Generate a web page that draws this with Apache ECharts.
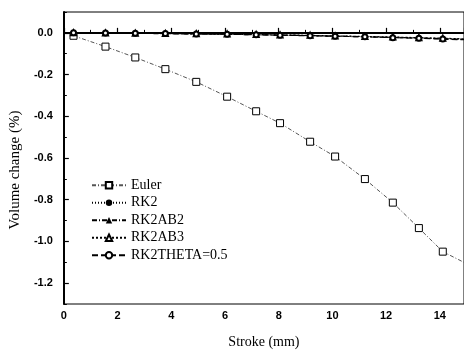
<!DOCTYPE html>
<html><head><meta charset="utf-8">
<script src="https://cdn.jsdelivr.net/npm/echarts@6/dist/echarts.min.js"></script>
<style>html,body{margin:0;padding:0;background:#fff}#c{width:464px;height:354px}</style>
</head><body><div id="c"></div>
<script>
const strokeX = [0.36,1.55,2.66,3.78,4.93,6.08,7.16,8.05,9.17,10.1,11.21,12.25,13.22,14.11,15.2];
const euler = [-0.014,-0.066,-0.118,-0.174,-0.235,-0.306,-0.376,-0.433,-0.522,-0.593,-0.701,-0.814,-0.936,-1.049,-1.12];
const rk2 = [0,-0.001,-0.002,-0.003,-0.005,-0.006,-0.008,-0.010,-0.013,-0.015,-0.018,-0.021,-0.024,-0.027,-0.031];
const rk2ab2 = [0,-0.001,-0.002,-0.004,-0.005,-0.007,-0.009,-0.011,-0.013,-0.016,-0.019,-0.022,-0.025,-0.028,-0.032];
const rk2ab3 = [0,-0.001,-0.002,-0.003,-0.004,-0.006,-0.008,-0.010,-0.012,-0.015,-0.017,-0.020,-0.023,-0.026,-0.030];
const rk2theta = [0,-0.001,-0.002,-0.003,-0.005,-0.007,-0.009,-0.011,-0.014,-0.016,-0.019,-0.023,-0.026,-0.030,-0.034];
const xTicks = [0,2,4,6,8,10,12,14];
const yTicks = [-1.2,-1.0,-0.8,-0.6,-0.4,-0.2,0.0];
const yMinor = [-1.3,-1.1,-0.9,-0.7,-0.5,-0.3,-0.1,0.1];
const names = ['Euler','RK2','RK2AB2','RK2AB3','RK2THETA=0.5'];

const pairs = arr => strokeX.map((x,i)=>[x,arr[i]]);
const tickFont = {fontFamily:'Liberation Sans, Arial', fontWeight:'bold', fontSize:11, color:'#000'};
const chart = echarts.init(document.getElementById('c'), null, {renderer:'canvas'});
chart.setOption({
  animation:false,
  backgroundColor:'#fff',
  grid:{left:63, right:0, top:12, bottom:45.5, show:true, borderColor:'#000', borderWidth:1},
  legend:{
    orient:'vertical', left:86, top:173, itemWidth:34, itemHeight:8, itemGap:3,
    data:names,
    textStyle:{fontFamily:'Liberation Serif, Times New Roman', fontSize:14, color:'#000', lineHeight:14.5}
  },
  xAxis:{
    type:'value', min:0, max:14.9, interval:2,
    name:'Stroke (mm)', nameLocation:'middle', nameGap:31,
    nameTextStyle:{fontFamily:'Liberation Serif, Times New Roman', fontSize:14, color:'#000'},
    axisLine:{lineStyle:{color:'#000', width:2}},
    axisTick:{inside:true, length:5, lineStyle:{color:'#000', width:1.2}},
    minorTick:{show:true, splitNumber:2, length:3, lineStyle:{color:'#000'}},
    axisLabel:{...tickFont, margin:6, customValues:xTicks},
    splitLine:{show:false}
  },
  yAxis:[{
    type:'value', min:-1.3, max:0.1, interval:0.1,
    name:'Volume change (%)', nameLocation:'middle', nameGap:35,
    nameTextStyle:{fontFamily:'Liberation Serif, Times New Roman', fontSize:15, color:'#000', padding:[0,0,0,-24]},
    axisLine:{lineStyle:{color:'#000', width:2}},
    axisTick:{inside:true, length:5, customValues:yTicks, lineStyle:{color:'#000', width:1.2}},
    axisLabel:{...tickFont, margin:11, customValues:yTicks, formatter:v=>v.toFixed(1)},
    splitLine:{show:false}
  },{
    type:'value', min:-1.3, max:0.1, interval:0.1, position:'left',
    axisLine:{show:false},
    axisTick:{inside:true, length:3, customValues:yMinor, lineStyle:{color:'#000'}},
    axisLabel:{show:false}, splitLine:{show:false}
  }],
  series:[
    {name:names[0], type:'line', data:pairs(euler), symbol:'rect', symbolSize:7,
     itemStyle:{color:'#fff', borderColor:'#000', borderWidth:1},
     lineStyle:{color:'#555', width:1, type:[4,2,1,2]}},
    {name:names[1], type:'line', data:pairs(rk2), symbol:'circle', symbolSize:5,
     itemStyle:{color:'#000'}, lineStyle:{color:'#000', width:1.2, type:[1,2]}},
    {name:names[2], type:'line', data:pairs(rk2ab2), symbol:'triangle', symbolSize:5,
     itemStyle:{color:'#000'}, lineStyle:{color:'#000', width:1.2, type:[5,2,1,2]}},
    {name:names[3], type:'line', data:pairs(rk2ab3), symbol:'emptyTriangle', symbolSize:5,
     itemStyle:{color:'#000'}, lineStyle:{color:'#000', width:1.2, type:[2,2]}},
    {name:names[4], type:'line', data:pairs(rk2theta), symbol:'emptyCircle', symbolSize:5,
     itemStyle:{color:'#000'}, lineStyle:{color:'#000', width:1.2, type:[6,3]}}
  ]
});
</script></body></html>
